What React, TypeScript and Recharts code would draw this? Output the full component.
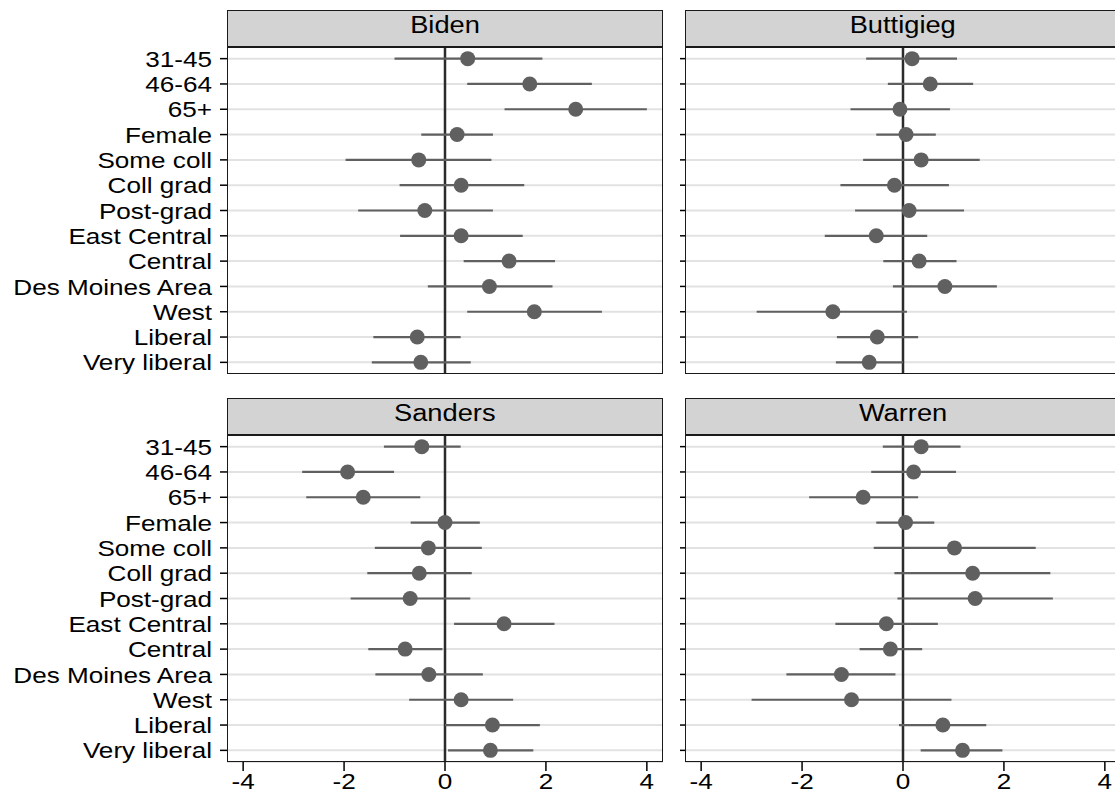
import React from 'react';
import { ComposedChart, Scatter, ErrorBar, XAxis, YAxis, CartesianGrid, ReferenceLine } from 'recharts';

const categories = [
  '31-45', '46-64', '65+', 'Female', 'Some coll', 'Coll grad', 'Post-grad',
  'East Central', 'Central', 'Des Moines Area', 'West', 'Liberal', 'Very liberal',
];
const xTicks = [-4, -2, 0, 2, 4];

const bidenEst = [0.45, 1.68, 2.59, 0.24, -0.52, 0.32, -0.40, 0.32, 1.27, 0.88, 1.77, -0.55, -0.48];
const bidenLo = [-1.0, 0.44, 1.18, -0.47, -1.97, -0.9, -1.72, -0.89, 0.37, -0.34, 0.44, -1.42, -1.45];
const bidenHi = [1.93, 2.91, 4.0, 0.95, 0.92, 1.57, 0.95, 1.54, 2.18, 2.13, 3.11, 0.31, 0.51];

const buttigiegEst = [0.18, 0.54, -0.06, 0.06, 0.36, -0.17, 0.12, -0.53, 0.32, 0.83, -1.39, -0.51, -0.67];
const buttigiegLo = [-0.73, -0.3, -1.04, -0.53, -0.79, -1.24, -0.95, -1.55, -0.39, -0.2, -2.9, -1.31, -1.33];
const buttigiegHi = [1.07, 1.39, 0.93, 0.65, 1.52, 0.91, 1.21, 0.48, 1.06, 1.86, 0.08, 0.3, 0.0];

const sandersEst = [-0.46, -1.93, -1.62, 0.0, -0.33, -0.51, -0.69, 1.17, -0.79, -0.32, 0.32, 0.94, 0.9];
const sandersLo = [-1.21, -2.83, -2.75, -0.68, -1.39, -1.54, -1.87, 0.18, -1.52, -1.38, -0.71, 0.0, 0.06];
const sandersHi = [0.31, -1.01, -0.49, 0.69, 0.73, 0.53, 0.5, 2.17, -0.05, 0.75, 1.35, 1.88, 1.75];

const warrenEst = [0.36, 0.21, -0.79, 0.05, 1.02, 1.38, 1.43, -0.33, -0.25, -1.22, -1.02, 0.79, 1.18];
const warrenLo = [-0.4, -0.63, -1.86, -0.53, -0.58, -0.17, -0.11, -1.34, -0.86, -2.31, -3.0, -0.08, 0.35];
const warrenHi = [1.14, 1.05, 0.3, 0.62, 2.63, 2.92, 2.97, 0.69, 0.38, -0.15, 0.96, 1.65, 1.97];

const FONT = '"Liberation Sans", Arial, Helvetica, sans-serif';
const STRETCH = 1.16;
const PLOT_W = 436;
const PLOT_H = 327;
const STRIP_H = 37;
const LABEL_W = 227;

const buildRows = (est: number[], lo: number[], hi: number[]) =>
  est.map((v, i) => ({ x: v, y: i, err: [v - lo[i], hi[i] - v] }));

const YTick = (props: any) => {
  const { x, y, payload } = props;
  return (
    <g transform={`translate(${x},${y})`}>
      <text transform={`scale(${STRETCH},1)`} textAnchor="end" dy="0.36em" fontSize={22.5} fontFamily={FONT} fill="#000">
        {categories[payload.value]}
      </text>
    </g>
  );
};

const XTick = (props: any) => {
  const { x, y, payload } = props;
  return (
    <g transform={`translate(${x},${y})`}>
      <text transform={`scale(${STRETCH},1)`} textAnchor="middle" dy="0.71em" fontSize={22.5} fontFamily={FONT} fill="#000">
        {String(payload.value)}
      </text>
    </g>
  );
};

const NoTick = () => <g />;

interface PanelProps {
  title: string;
  est: number[];
  lo: number[];
  hi: number[];
  plotLeft: number;
  plotTop: number;
  labels: boolean;
  xAxis: boolean;
}

const Panel: React.FC<PanelProps> = ({ title, est, lo, hi, plotLeft, plotTop, labels, xAxis }) => {
  const rows = buildRows(est, lo, hi);
  const yw = labels ? LABEL_W : 10;
  const xh = xAxis ? 45 : 0;
  return (
    <>
      <div
        style={{
          position: 'absolute', left: plotLeft, top: plotTop - STRIP_H, width: PLOT_W, height: STRIP_H,
          background: '#d3d3d3', border: '1.7px solid #1a1a1a', boxSizing: 'border-box',
          display: 'flex', justifyContent: 'center', alignItems: 'center', paddingBottom: 5,
        }}
      >
        <span style={{ fontFamily: FONT, fontSize: 23.5, color: '#000', transform: `scaleX(${STRETCH})`, lineHeight: 1 }}>
          {title}
        </span>
      </div>
      <div style={{ position: 'absolute', left: plotLeft - yw, top: plotTop }}>
        <ComposedChart width={yw + PLOT_W} height={PLOT_H + xh} margin={{ top: 0, right: 0, bottom: 0, left: 0 }}>
          <CartesianGrid horizontal vertical={false} stroke="#e2e2e2" strokeWidth={2} />
          <XAxis
            type="number"
            dataKey="x"
            domain={[-4.32, 4.32]}
            allowDataOverflow
            ticks={xTicks}
            hide={!xAxis}
            height={xh}
            axisLine={false}
            tickLine={{ stroke: '#000', strokeWidth: 1.5 }}
            tickSize={9}
            tickMargin={2}
            tick={<XTick />}
          />
          <YAxis
            type="number"
            dataKey="y"
            domain={[-0.46, 12.46]}
            allowDataOverflow
            reversed
            ticks={categories.map((_, i) => i)}
            interval={0}
            width={yw}
            axisLine={false}
            tickLine={{ stroke: '#000', strokeWidth: 1.5 }}
            tickSize={labels ? 7 : 5}
            tickMargin={8}
            tick={labels ? <YTick /> : <NoTick />}
          />
          <ReferenceLine x={0} stroke="#2b2b2b" strokeWidth={2.5} />
          <Scatter
            data={rows}
            isAnimationActive={false}
            shape={(p: any) => <circle cx={p.cx} cy={p.cy} r={7.5} fill="#606060" />}
          >
            <ErrorBar dataKey="err" direction="x" width={0} stroke="#606060" strokeWidth={2.2} isAnimationActive={false} />
          </Scatter>
        </ComposedChart>
      </div>
      <div
        style={{
          position: 'absolute', left: plotLeft, top: plotTop, width: PLOT_W, height: PLOT_H,
          border: '1.7px solid #1a1a1a', boxSizing: 'border-box', pointerEvents: 'none',
        }}
      />
    </>
  );
};

export default function App() {
  return (
    <div style={{ position: 'absolute', left: 0, top: 0, width: 1115, height: 805, overflow: 'hidden', background: '#fff' }}>
      <Panel title="Biden" est={bidenEst} lo={bidenLo} hi={bidenHi} plotLeft={227} plotTop={47} labels xAxis={false} />
      <Panel title="Buttigieg" est={buttigiegEst} lo={buttigiegLo} hi={buttigiegHi} plotLeft={685} plotTop={47} labels={false} xAxis={false} />
      <Panel title="Sanders" est={sandersEst} lo={sandersLo} hi={sandersHi} plotLeft={227} plotTop={435} labels xAxis />
      <Panel title="Warren" est={warrenEst} lo={warrenLo} hi={warrenHi} plotLeft={685} plotTop={435} labels={false} xAxis />
    </div>
  );
}
